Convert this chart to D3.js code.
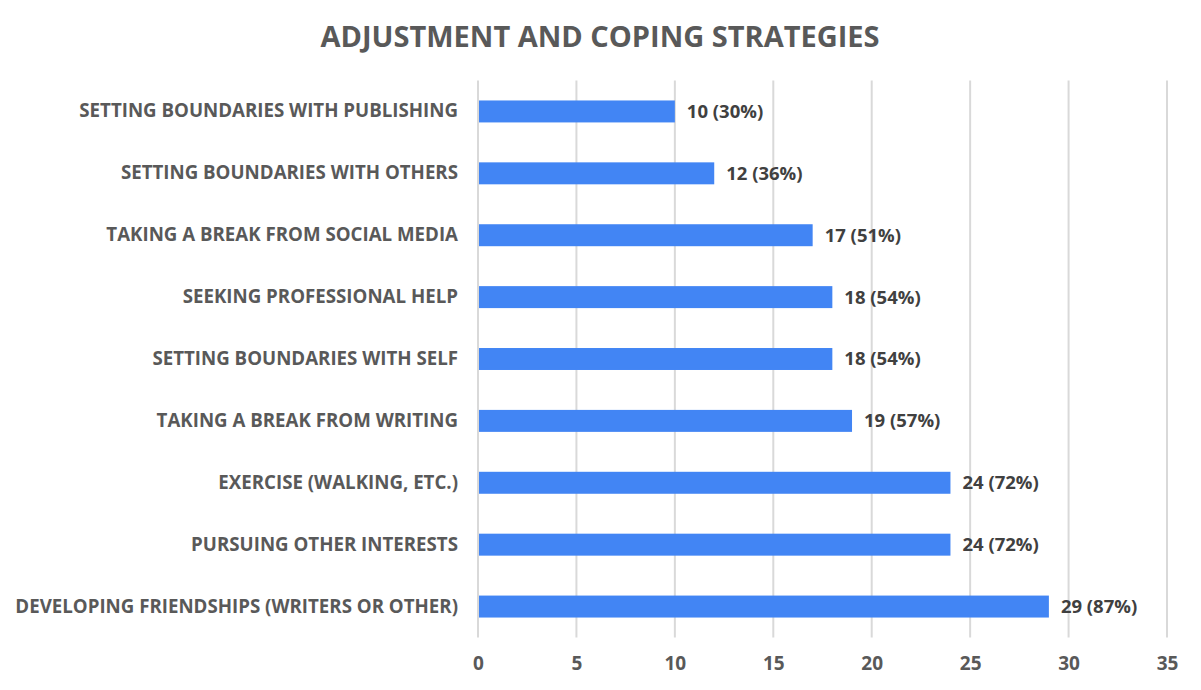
<!DOCTYPE html>
<html>
<head>
<meta charset="utf-8">
<script src="https://cdn.jsdelivr.net/npm/d3@7"></script>
<style>
	body { margin: 0; background: #ffffff; }
	text { font-family: "Open Sans", sans-serif; font-weight: bold; }
</style>
</head>
<body>
<div id="chart"></div>
<script>
//chart data
var categories = [
	"SETTING BOUNDARIES WITH PUBLISHING",
	"SETTING BOUNDARIES WITH OTHERS",
	"TAKING A BREAK FROM SOCIAL MEDIA",
	"SEEKING PROFESSIONAL HELP",
	"SETTING BOUNDARIES WITH SELF",
	"TAKING A BREAK FROM WRITING",
	"EXERCISE (WALKING, ETC.)",
	"PURSUING OTHER INTERESTS",
	"DEVELOPING FRIENDSHIPS (WRITERS OR OTHER)"
];
var counts = [10, 12, 17, 18, 18, 19, 24, 24, 29];
var percents = [30, 36, 51, 54, 54, 57, 72, 72, 87];
var xTicks = [0, 5, 10, 15, 20, 25, 30, 35];
var title = "ADJUSTMENT AND COPING STRATEGIES";

//frame dimensions
var width = 1201,
	height = 690,
	plotLeft = 478,
	plotRight = 1167,
	plotTop = 80.5,
	plotBottom = 637.5;

var svg = d3.select("#chart")
	.append("svg")
		.attr("width", width)
		.attr("height", height);

var x = d3.scaleLinear()
	.domain([0, 35])
	.range([plotLeft, plotRight]);

var y = d3.scaleBand()
	.domain(categories)
	.range([plotTop, plotBottom])
	.paddingInner(0.645)
	.paddingOuter(0.3225);

//gridlines
svg.append("g")
	.selectAll("line")
	.data(xTicks)
	.enter()
	.append("line")
		.attr("x1", function(d) { return x(d); })
		.attr("x2", function(d) { return x(d); })
		.attr("y1", plotTop)
		.attr("y2", plotBottom)
		.style("stroke", "#d9d9d9")
		.style("stroke-width", 2);

//bars
svg.append("g")
	.selectAll("rect")
	.data(counts)
	.enter()
	.append("rect")
		.attr("x", x(0) + 1)
		.attr("y", function(d, i) { return y(categories[i]); })
		.attr("width", function(d) { return x(d) - x(0) - 1; })
		.attr("height", y.bandwidth())
		.style("fill", "#4285f4");

//value labels
svg.append("g")
	.selectAll("text")
	.data(counts)
	.enter()
	.append("text")
		.attr("x", function(d) { return x(d) + 12; })
		.attr("y", function(d, i) { return y(categories[i]) + y.bandwidth() / 2; })
		.attr("dy", "0.35em")
		.style("font-size", "18.5px")
		.style("fill", "#404040")
		.text(function(d, i) { return d + " (" + percents[i] + "%)"; });

//category axis
var yAxis = svg.append("g")
	.attr("transform", "translate(" + (plotLeft - 20) + ",0)")
	.call(d3.axisLeft(y).tickSize(0).tickPadding(0));
yAxis.select(".domain").remove();
yAxis.selectAll("text")
	.style("font-family", "'Open Sans', sans-serif")
	.style("font-weight", "bold")
	.style("font-size", "18.7px")
	.style("fill", "#595959");

//value axis
var xAxis = svg.append("g")
	.attr("transform", "translate(0," + plotBottom + ")")
	.call(d3.axisBottom(x).tickValues(xTicks).tickSize(0).tickPadding(19));
xAxis.select(".domain").remove();
xAxis.selectAll("text")
	.style("font-family", "'Open Sans', sans-serif")
	.style("font-weight", "bold")
	.style("font-size", "19px")
	.style("fill", "#595959");

//title
svg.append("text")
	.attr("x", 600)
	.attr("y", 37)
	.attr("dy", "0.35em")
	.style("text-anchor", "middle")
	.style("font-size", "29px")
	.style("fill", "#595959")
	.text(title);
</script>
</body>
</html>
